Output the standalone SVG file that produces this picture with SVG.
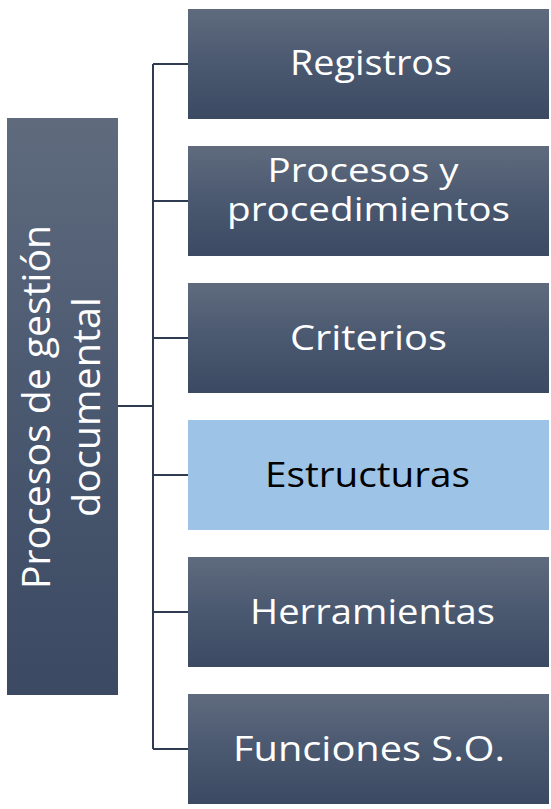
<svg xmlns="http://www.w3.org/2000/svg" width="551" height="809" viewBox="0 0 551 809">
<defs>
<linearGradient id="g" x1="0" y1="0" x2="0" y2="1">
<stop offset="0" stop-color="#5f6b7d"/>
<stop offset="0.5" stop-color="#4a5870"/>
<stop offset="1" stop-color="#3b4a62"/>
</linearGradient>
</defs>
<style>
.box{fill:url(#g);}
.hl{fill:#9dc3e6;}
.t{font-family:"Open Sans","Liberation Sans",sans-serif;font-size:34px;fill:#ffffff;text-anchor:middle;}
.sm{font-size:32px;}
.dk{fill:#000000;}
.lt{font-size:39px;}
.c{stroke:#2f3b50;stroke-width:2;fill:none;}
</style>
<rect width="551" height="809" fill="#ffffff"/>
<g id="connectors">
<path class="c" d="M118,406 H153 M153,64 V749 M153,64 H188 M153,201 H188 M153,338 H188 M153,475 H188 M153,612 H188 M153,749 H188"/>
</g>
<g id="root">
<rect class="box" x="7" y="118" width="111" height="577"/>
<g transform="translate(62.5,406) rotate(-90)">
<text class="t lt" x="-1" y="-13" textLength="364" lengthAdjust="spacingAndGlyphs">Procesos de gestión</text>
<text class="t lt" x="-1" y="37" textLength="220" lengthAdjust="spacingAndGlyphs">documental</text>
</g>
</g>
<g id="n1">
<rect class="box" x="188" y="9" width="361" height="110"/>
<text class="t" x="371" y="75" textLength="162" lengthAdjust="spacingAndGlyphs">Registros</text>
</g>
<g id="n2">
<rect class="box" x="188" y="146" width="361" height="110"/>
<text class="t sm" x="363" y="182" textLength="191" lengthAdjust="spacingAndGlyphs">Procesos y</text>
<text class="t sm" x="368.5" y="221" textLength="283" lengthAdjust="spacingAndGlyphs">procedimientos</text>
</g>
<g id="n3">
<rect class="box" x="188" y="283" width="361" height="110"/>
<text class="t" x="368.5" y="350" textLength="157" lengthAdjust="spacingAndGlyphs">Criterios</text>
</g>
<g id="n4">
<rect class="hl" x="188" y="420" width="361" height="110"/>
<text class="t dk" x="367.5" y="487" textLength="205" lengthAdjust="spacingAndGlyphs">Estructuras</text>
</g>
<g id="n5">
<rect class="box" x="188" y="557" width="361" height="110"/>
<text class="t" x="372.5" y="624" textLength="245" lengthAdjust="spacingAndGlyphs">Herramientas</text>
</g>
<g id="n6">
<rect class="box" x="188" y="694" width="361" height="110"/>
<text class="t" x="369" y="761" textLength="272" lengthAdjust="spacingAndGlyphs">Funciones S.O.</text>
</g>
</svg>
